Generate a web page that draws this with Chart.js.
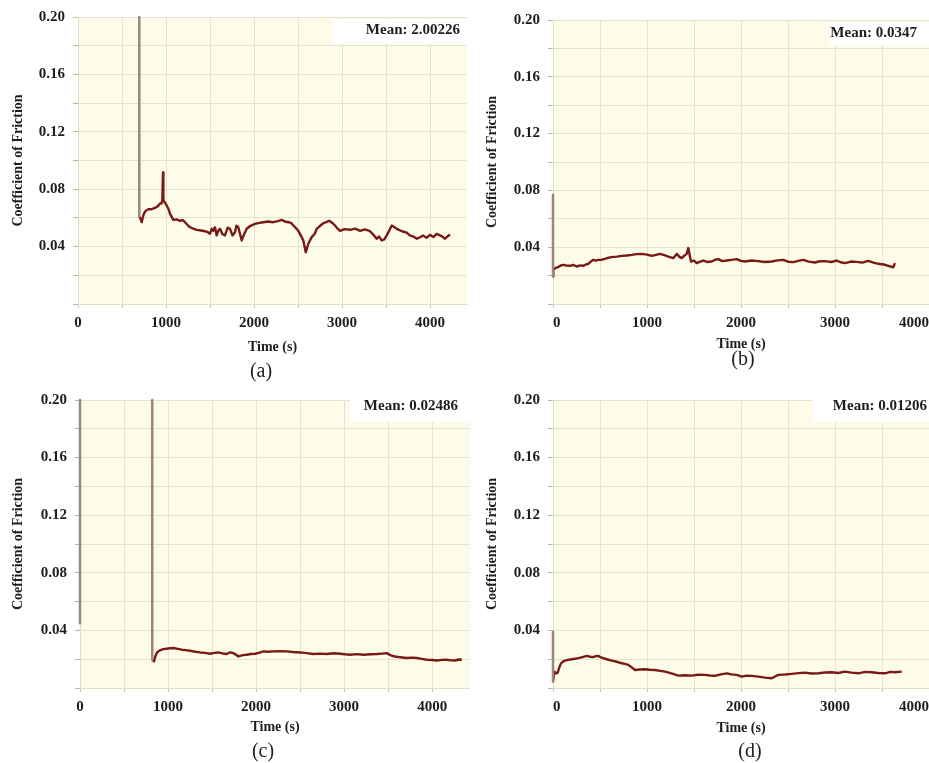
<!DOCTYPE html>
<html>
<head>
<meta charset="utf-8">
<script src="https://cdn.jsdelivr.net/npm/chart.js@4.4.1/dist/chart.umd.min.js"></script>
<style>
  html, body { margin: 0; padding: 0; background: #fff; overflow: hidden; }
  #page { position: relative; width: 929px; height: 763px; overflow: hidden; }
  #page canvas { position: absolute; }
  .cap { position: absolute; width: 60px; margin-left: -30px; margin-top: -11px; text-align: center;
         font: 20px "Liberation Serif", "Times New Roman", serif; line-height: 22px; color: #222; }
</style>
</head>
<body>
<div id="page">
  <canvas id="chartA" width="470" height="362" style="left:0;top:0"></canvas>
  <canvas id="chartB" width="461" height="359" style="left:474px;top:0"></canvas>
  <canvas id="chartC" width="470" height="362" style="left:0;top:380px"></canvas>
  <canvas id="chartD" width="461" height="363" style="left:474px;top:380px"></canvas>
  <div class="cap" style="left:261px;top:370px">(a)</div>
  <div class="cap" style="left:743px;top:358px">(b)</div>
  <div class="cap" style="left:263px;top:750px">(c)</div>
  <div class="cap" style="left:750px;top:750px">(d)</div>
</div>
<script>
// run (a)
const aSpikeTime = [697, 697];
const aSpikeCof = [0.20, 0.061];
const aTime = [697, 712, 724, 738, 750, 770, 799, 830, 875, 905, 932, 948, 958, 966, 970, 985, 1008, 1030,
  1045, 1070, 1083, 1120, 1159, 1190, 1216, 1245, 1273, 1310, 1349, 1400, 1443, 1470, 1500, 1520, 1538,
  1556, 1576, 1596, 1614, 1640, 1670, 1700, 1727, 1755, 1784, 1800, 1822, 1840, 1860, 1890, 1917, 1960,
  2011, 2060, 2106, 2160, 2219, 2270, 2315, 2350, 2390, 2420, 2447, 2475, 2503, 2530, 2560, 2588, 2617,
  2655, 2690, 2713, 2750, 2788, 2820, 2856, 2890, 2920, 2950, 2977, 3030, 3091, 3150, 3205, 3260, 3318,
  3360, 3394, 3420, 3451, 3480, 3508, 3535, 3565, 3622, 3680, 3735, 3770, 3810, 3850, 3886, 3920, 3962,
  4000, 4038, 4075, 4114, 4140, 4170, 4200, 4227];
const aCof = [0.061, 0.059, 0.057, 0.061, 0.063, 0.065, 0.066, 0.066, 0.067, 0.068, 0.070, 0.070, 0.072,
  0.0916, 0.072, 0.071, 0.0685, 0.066, 0.063, 0.060, 0.0586, 0.059, 0.058, 0.0585, 0.057, 0.055, 0.0535,
  0.0525, 0.0517, 0.0512, 0.0507, 0.0502, 0.049, 0.0525, 0.051, 0.0535, 0.0478, 0.0515, 0.0524, 0.0488,
  0.0478, 0.0532, 0.0524, 0.0478, 0.050, 0.0545, 0.0535, 0.049, 0.0443, 0.049, 0.0524, 0.0545, 0.0558,
  0.0565, 0.057, 0.0575, 0.057, 0.0578, 0.0586, 0.0575, 0.057, 0.0565, 0.0547, 0.053, 0.051, 0.048,
  0.0443, 0.036, 0.042, 0.0466, 0.049, 0.0524, 0.0545, 0.0563, 0.057, 0.058, 0.0565, 0.0547, 0.0525,
  0.051, 0.0522, 0.0517, 0.0525, 0.051, 0.052, 0.0507, 0.048, 0.0455, 0.047, 0.0443, 0.045, 0.0478,
  0.051, 0.0547, 0.0524, 0.0507, 0.0498, 0.0478, 0.047, 0.0455, 0.0465, 0.0478, 0.0462, 0.0482, 0.0466,
  0.0488, 0.0478, 0.047, 0.0455, 0.0472, 0.0484];

// run (b)
const bSpikeTime = [0, 0];
const bSpikeCof = [0.077, 0.0193];
const bTime = [0, 3, 30, 56, 85, 110, 145, 181, 215, 252, 290, 322, 350, 376, 400, 429, 455, 482, 520, 553,
  590, 624, 680, 731, 785, 837, 890, 944, 1000, 1050, 1095, 1138, 1185, 1227, 1280, 1316, 1345, 1369,
  1400, 1422, 1439, 1468, 1500, 1529, 1565, 1599, 1640, 1688, 1725, 1759, 1800, 1848, 1900, 1954, 2000,
  2043, 2110, 2184, 2250, 2327, 2390, 2450, 2500, 2556, 2610, 2663, 2720, 2787, 2840, 2894, 2960, 3018,
  3060, 3106, 3170, 3231, 3290, 3354, 3410, 3461, 3520, 3567, 3620, 3638];
const bCof = [0.0193, 0.024, 0.0255, 0.026, 0.0272, 0.0276, 0.027, 0.0269, 0.0275, 0.0264, 0.0272, 0.0269,
  0.0278, 0.0283, 0.0298, 0.0311, 0.0305, 0.0311, 0.0312, 0.0318, 0.0326, 0.033, 0.0334, 0.0339, 0.0342,
  0.0346, 0.0351, 0.0353, 0.0348, 0.0339, 0.0346, 0.0353, 0.0344, 0.0334, 0.0323, 0.0353, 0.0332, 0.0323,
  0.0342, 0.0353, 0.0394, 0.0299, 0.0306, 0.0288, 0.0298, 0.0306, 0.0296, 0.0299, 0.0312, 0.0316, 0.0302,
  0.0306, 0.0311, 0.0316, 0.0304, 0.0299, 0.0306, 0.0302, 0.0296, 0.0299, 0.0307, 0.0311, 0.0298, 0.0295,
  0.0304, 0.0311, 0.0298, 0.0292, 0.0301, 0.0302, 0.0296, 0.0306, 0.0294, 0.0288, 0.0299, 0.0297, 0.0291,
  0.0304, 0.0292, 0.0283, 0.0278, 0.0269, 0.0259, 0.0288];

// run (c): two start-up transients before the steady trace
const cSpike1Time = [0, 0];
const cSpike1Cof = [0.20, 0.045];
const cSpike2Time = [820, 820, 822];
const cSpike2Cof = [0.20, 0.056, 0.0196];
const cTime = [822, 841, 856, 871, 890, 909, 945, 985, 1020, 1061, 1110, 1155, 1200, 1250, 1310, 1364, 1420,
  1477, 1525, 1572, 1620, 1667, 1705, 1742, 1770, 1799, 1850, 1894, 1940, 1989, 2040, 2083, 2140, 2197,
  2270, 2348, 2420, 2500, 2575, 2652, 2730, 2803, 2880, 2955, 3010, 3068, 3140, 3220, 3300, 3371, 3430,
  3485, 3515, 3542, 3580, 3617, 3665, 3712, 3770, 3826, 3880, 3939, 4000, 4053, 4110, 4167, 4215, 4261,
  4300, 4337];
const cCof = [0.0196, 0.0184, 0.022, 0.0242, 0.0255, 0.0261, 0.027, 0.0273, 0.0276, 0.0278, 0.0272, 0.0266,
  0.0263, 0.0259, 0.0252, 0.0247, 0.0244, 0.0238, 0.0244, 0.0247, 0.024, 0.0236, 0.0248, 0.0242, 0.0232,
  0.0219, 0.0228, 0.0231, 0.0236, 0.0238, 0.0246, 0.0254, 0.0252, 0.0254, 0.0256, 0.0254, 0.025, 0.0247,
  0.0242, 0.0236, 0.0239, 0.0236, 0.0241, 0.0238, 0.0234, 0.0231, 0.0235, 0.0231, 0.0234, 0.0236, 0.0239,
  0.0242, 0.0232, 0.0224, 0.0219, 0.0215, 0.0212, 0.0208, 0.0211, 0.0208, 0.0202, 0.0196, 0.0194, 0.0191,
  0.0195, 0.0196, 0.0192, 0.0191, 0.0198, 0.0196];

// run (d)
const dSpikeTime = [0, 0];
const dSpikeCof = [0.039, 0.0044];
const dTime = [0, 14, 32, 50, 68, 85, 105, 128, 160, 199, 235, 270, 315, 358, 395, 429, 455, 482, 510, 535,
  580, 624, 680, 731, 765, 801, 835, 872, 925, 979, 1030, 1085, 1140, 1191, 1260, 1333, 1400, 1476, 1545,
  1617, 1670, 1723, 1785, 1848, 1900, 1954, 2007, 2060, 2114, 2185, 2255, 2326, 2397, 2470, 2539, 2610,
  2681, 2750, 2822, 2895, 2965, 3035, 3106, 3175, 3248, 3320, 3390, 3460, 3532, 3590, 3638, 3710];
const dCof = [0.0044, 0.0114, 0.0102, 0.0107, 0.0145, 0.017, 0.0183, 0.019, 0.0195, 0.020, 0.0203, 0.0207,
  0.0215, 0.0223, 0.0217, 0.0214, 0.0221, 0.0223, 0.0212, 0.0207, 0.0198, 0.019, 0.0182, 0.0172, 0.0168,
  0.016, 0.0145, 0.0125, 0.0128, 0.013, 0.0127, 0.0125, 0.0119, 0.0114, 0.0102, 0.0086, 0.0089, 0.0086,
  0.0092, 0.0091, 0.0087, 0.0084, 0.0095, 0.0102, 0.0095, 0.0091, 0.0079, 0.0086, 0.0084, 0.0079, 0.0072,
  0.0068, 0.0091, 0.0094, 0.0098, 0.0103, 0.0107, 0.0101, 0.0102, 0.0108, 0.0109, 0.0104, 0.0114, 0.0107,
  0.0102, 0.0112, 0.0109, 0.0104, 0.0102, 0.0112, 0.0109, 0.0114];

// gridline positions and which of them carry a label
const yGrid = [0, 0.02, 0.04, 0.06, 0.08, 0.10, 0.12, 0.14, 0.16, 0.18, 0.20];
const yTicks = [0.04, 0.08, 0.12, 0.16, 0.20];
const xGrid = [0, 500, 1000, 1500, 2000, 2500, 3000, 3500, 4000];
const xTicks = [0, 1000, 2000, 3000, 4000];

const SERIF = '"Liberation Serif", "Times New Roman", serif';
Chart.defaults.font.family = SERIF;
Chart.defaults.color = '#1e1e1e';

const pts = (t, v) => t.map((x, i) => ({ x: x, y: v[i] }));

const plotBg = {
  id: 'plotBg',
  beforeDraw(chart) {
    const { ctx, chartArea: a } = chart;
    ctx.save();
    ctx.fillStyle = '#fdfce8';
    ctx.fillRect(a.left, a.top, a.right - a.left, a.bottom - a.top);
    ctx.restore();
  }
};

const meanBox = {
  id: 'meanBox',
  afterDatasetsDraw(chart, args, o) {
    const { ctx, chartArea: a } = chart;
    ctx.save();
    ctx.fillStyle = '#ffffff';
    ctx.fillRect(a.right - o.width, a.top + o.top, o.width, o.height);
    ctx.font = 'bold 15px ' + SERIF;
    ctx.fillStyle = '#1e1e1e';
    ctx.textAlign = 'right';
    ctx.textBaseline = 'middle';
    ctx.fillText(o.text, a.right - o.inset, a.top + o.textY);
    ctx.restore();
  }
};

function cofChart(id, p) {
  // start-up transients are drawn unclipped so the lines on the axis stay whole
  const datasets = p.spikes.map(s => ({
    data: pts(s[0], s[1]), borderColor: '#9c8878', borderWidth: 2.5, clip: false
  }));
  datasets.push({ data: pts(p.time, p.cof), borderColor: '#781a18', borderWidth: 2.4 });

  return new Chart(document.getElementById(id), {
    type: 'line',
    data: { datasets: datasets },
    plugins: [plotBg, meanBox],
    options: {
      responsive: false,
      animation: false,
      events: [],
      layout: { padding: p.padding },
      elements: { point: { radius: 0 }, line: { tension: 0, borderJoinStyle: 'round' } },
      plugins: {
        legend: { display: false },
        tooltip: { enabled: false },
        meanBox: p.mean
      },
      scales: {
        x: {
          type: 'linear',
          min: 0,
          max: p.xMax,
          afterBuildTicks: s => { s.ticks = xGrid.map(v => ({ value: v })); },
          afterFit: s => { s.height = p.xHeight; },
          grid: { color: '#e5e2cf', tickColor: '#c4c2b6', tickLength: 4 },
          border: { color: '#e0ddc8' },
          ticks: {
            autoSkip: false,
            maxRotation: 0,
            align: p.xAlign,
            padding: 6,
            font: { size: 15, weight: 'bold' },
            callback: v => xTicks.includes(v) ? String(v) : ''
          },
          title: {
            display: true,
            text: 'Time (s)',
            font: { size: 14, weight: 'bold' },
            padding: { top: 0, bottom: 6 }
          }
        },
        y: {
          min: 0,
          max: 0.2,
          afterBuildTicks: s => { s.ticks = yGrid.map(v => ({ value: v })); },
          afterFit: s => { s.width = p.yWidth; },
          grid: { color: '#e5e2cf', tickColor: '#b8b6aa', tickLength: 5 },
          border: { color: '#e0ddc8' },
          ticks: {
            autoSkip: false,
            padding: 8,
            font: { size: 15, weight: 'bold' },
            callback: v => yTicks.includes(v) ? v.toFixed(2) : ''
          },
          title: {
            display: true,
            text: 'Coefficient of Friction',
            font: { size: 14, weight: 'bold' },
            padding: { top: 10, bottom: 0 }
          }
        }
      }
    }
  });
}

cofChart('chartA', {
  time: aTime, cof: aCof, spikes: [[aSpikeTime, aSpikeCof]],
  xMax: 4420, xAlign: 'center', yWidth: 78, xHeight: 58,
  padding: { left: 0, right: 3, top: 15, bottom: 0 },
  mean: { text: 'Mean: 2.00226', width: 135, top: 2, height: 25, textY: 13, inset: 7 }
});

cofChart('chartB', {
  time: bTime, cof: bCof, spikes: [[bSpikeTime, bSpikeCof]],
  xMax: 4000, xAlign: 'inner', yWidth: 79, xHeight: 55,
  padding: { left: 0, right: 0, top: 20, bottom: 0 },
  mean: { text: 'Mean: 0.0347', width: 99, top: 2, height: 23, textY: 13, inset: 12 }
});

cofChart('chartC', {
  time: cTime, cof: cCof, spikes: [[cSpike1Time, cSpike1Cof], [cSpike2Time, cSpike2Cof]],
  xMax: 4430, xAlign: 'center', yWidth: 80, xHeight: 54,
  padding: { left: 0, right: 0, top: 20, bottom: 0 },
  mean: { text: 'Mean: 0.02486', width: 120, top: 0, height: 22, textY: 6, inset: 12 }
});

cofChart('chartD', {
  time: dTime, cof: dCof, spikes: [[dSpikeTime, dSpikeCof]],
  xMax: 4000, xAlign: 'inner', yWidth: 79, xHeight: 55,
  padding: { left: 0, right: 0, top: 20, bottom: 0 },
  mean: { text: 'Mean: 0.01206', width: 116, top: 0, height: 22, textY: 6, inset: 2 }
});
</script>
</body>
</html>
